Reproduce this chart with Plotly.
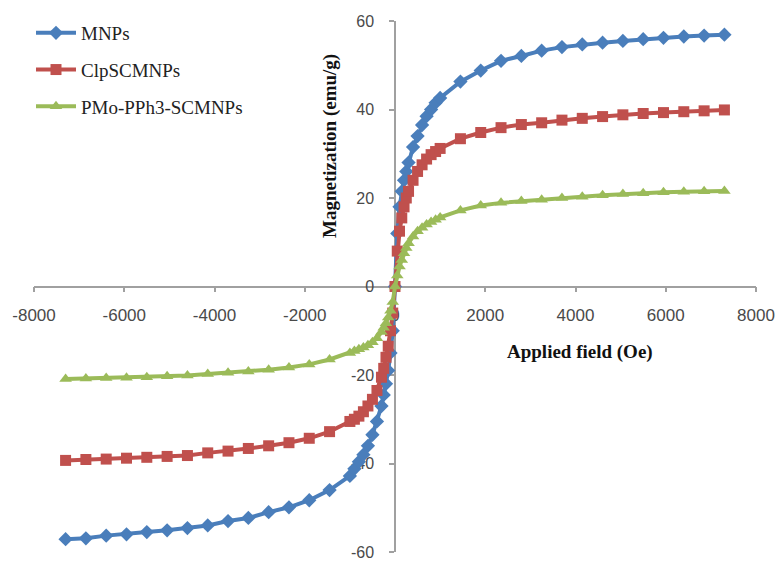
import plotly.graph_objects as go

# Applied field (Oe)
field = [-7300, -6850, -6400, -5950, -5500, -5050, -4600, -4150, -3700, -3250,
         -2800, -2350, -1900, -1450, -1000, -900, -800, -700, -600, -500, -400,
         -300, -250, -200, -150, -100, -50, 0, 50, 100, 150, 200, 250, 300, 400,
         500, 600, 700, 800, 900, 1000, 1450, 1900, 2350, 2800, 3250, 3700, 4150,
         4600, 5050, 5500, 5950, 6400, 6850, 7300]

# Magnetization (emu/g)
mnps = [-57.1, -56.9, -56.3, -56.0, -55.5, -55.1, -54.6, -54.0, -53.0, -52.3,
        -51.0, -49.9, -48.3, -46.0, -42.8, -41.2, -39.6, -38.0, -36.0, -33.5, -30.5,
        -27.0, -24.5, -22.0, -19.0, -15.0, -10.0, 0.0, 12.0, 18.0, 21.5, 24.0, 26.0, 28.0, 31.5,
        34.0, 36.5, 38.5, 40.0, 41.5, 42.6, 46.3, 48.8, 51.0, 52.1, 53.3, 54.1, 54.7,
        55.1, 55.5, 55.9, 56.2, 56.5, 56.7, 56.9]
clpscmnps = [-39.3, -39.1, -39.0, -38.8, -38.6, -38.4, -38.2, -37.6, -37.2, -36.6,
             -36.0, -35.3, -34.3, -32.8, -30.5, -30.0, -29.3, -28.3, -27.0, -25.5, -23.5,
             -20.5, -18.5, -16.0, -13.5, -10.0, -6.0, 0.0, 8.0, 12.5, 15.5, 18.0, 20.0, 21.5, 24.0,
             26.0, 27.5, 28.8, 29.8, 30.5, 31.2, 33.4, 34.8, 35.9, 36.6, 37.0, 37.6, 38.0,
             38.4, 38.8, 39.1, 39.3, 39.5, 39.7, 39.9]
pmo = [-20.9, -20.8, -20.7, -20.6, -20.5, -20.3, -20.1, -19.8, -19.5, -19.2,
       -18.8, -18.3, -17.6, -16.5, -15.0, -14.6, -14.2, -13.8, -13.3, -12.6, -11.7,
       -10.3, -9.3, -8.3, -7.0, -5.5, -3.5, 0.0, 2.5, 4.5, 6.0, 7.5, 8.7, 9.8, 11.3,
       12.5, 13.3, 14.0, 14.6, 15.1, 15.6, 17.2, 18.3, 18.9, 19.3, 19.6, 20.0, 20.3,
       20.6, 20.9, 21.1, 21.3, 21.4, 21.5, 21.6]

x_ticks = [-8000, -6000, -4000, -2000, 0, 2000, 4000, 6000, 8000]
x_tick_labels = ["-8000", "-6000", "-4000", "-2000", "0", "2000", "4000", "6000", "8000"]
y_ticks = [-60, -40, -20, 0, 20, 40, 60]
y_tick_labels = ["-60", "-40", "-20", "0", "20", "40", "60"]

series = [
    ("MNPs", mnps, "#4a7ebb", "diamond", 11),
    ("ClpSCMNPs", clpscmnps, "#c0504d", "square", 11),
    ("PMo-PPh3-SCMNPs", pmo, "#9bbb59", "triangle-up", 11),
]

fig = go.Figure()
for i, (name, vals, color, sym, size) in enumerate(series):
    fig.add_trace(go.Scatter(
        x=field, y=vals, name=name, mode="lines+markers",
        legendgroup=str(i),
        line=dict(color=color, width=4),
        marker=dict(color=color, symbol=sym, size=size, line=dict(width=0)),
    ))

axis_common = dict(
    showgrid=False, zeroline=False, showline=True, linecolor="#a0a0a0",
    linewidth=1.5, ticks="outside", ticklen=5, tickcolor="#a0a0a0",
    tickwidth=1.5, layer="below traces", ticklabeloverflow="allow", automargin=False,
)

L, R, T, B = 34, 21, 21, 10
W, H = 777 - L - R, 562 - T - B


def px_to_paper(px, py):
    return (px - L) / W, ((562 - py) - B) / H


fig.update_layout(
    width=777, height=562,
    margin=dict(l=L, r=R, t=T, b=B),
    paper_bgcolor="white", plot_bgcolor="white",
    xaxis=dict(range=[-8000, 8000], tickvals=x_ticks, ticktext=x_tick_labels,
               anchor="free", position=0.5, ticklabelstandoff=8,
               tickfont=dict(family="Liberation Sans, Arial", size=17, color="#4a4a4a"),
               **axis_common),
    yaxis=dict(range=[-60, 60], tickvals=y_ticks, ticktext=y_tick_labels,
               anchor="free", position=0.5, ticklabelstandoff=12,
               tickfont=dict(family="Liberation Sans, Arial", size=16, color="#4a4a4a"),
               **axis_common),
    legend=dict(x=px_to_paper(31, 0)[0], y=px_to_paper(0, 14)[1], xanchor="left", yanchor="top",
                bgcolor="rgba(0,0,0,0)", tracegroupgap=9, itemwidth=40,
                font=dict(family="Liberation Serif, Times New Roman", size=19, color="#222222")),
    showlegend=True,
)

ax, ay = px_to_paper(580, 352)
fig.add_annotation(text="<b>Applied field (Oe)</b>", x=ax, y=ay, xref="paper", yref="paper",
                   xanchor="center", yanchor="middle", showarrow=False,
                   font=dict(family="Liberation Serif, Times New Roman", size=19, color="#111111"))
bx, by = px_to_paper(330, 146)
fig.add_annotation(text="<b>Magnetization (emu/g)</b>", x=bx, y=by, xref="paper", yref="paper",
                   xanchor="center", yanchor="middle", textangle=-90, showarrow=False,
                   font=dict(family="Liberation Serif, Times New Roman", size=19, color="#111111"))

fig.write_html("out.html", config={"displayModeBar": False},
               post_script="document.body.style.margin='0';")
